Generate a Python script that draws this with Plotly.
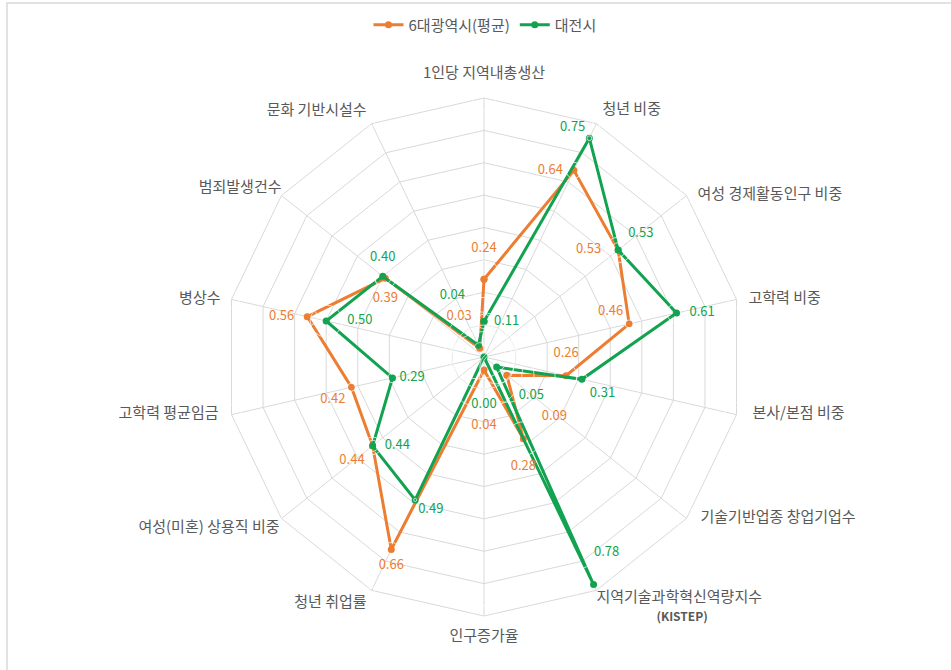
import plotly.graph_objects as go

# Indicator names, clockwise from the top
categories = [
    "1인당 지역내총생산",
    "청년 비중",
    "여성 경제활동인구 비중",
    "고학력 비중",
    "본사/본점 비중",
    "기술기반업종 창업기업수",
    "지역기술과학혁신역량지수<br>\u3000\u3000\u3000\u3000<span style='font-size:12px'><b>(KISTEP)</b></span>",
    "인구증가율",
    "청년 취업률",
    "여성(미혼) 상용직 비중",
    "고학력 평균임금",
    "병상수",
    "범죄발생건수",
    "문화 기반시설수",
]

series_names = ["6대광역시(평균)", "대전시"]
metro_avg = [0.24, 0.64, 0.53, 0.46, 0.26, 0.09, 0.28, 0.04, 0.66, 0.44, 0.42, 0.56, 0.39, 0.03]
daejeon = [0.11, 0.75, 0.53, 0.61, 0.31, 0.05, 0.78, 0.00, 0.49, 0.44, 0.29, 0.50, 0.40, 0.04]
r_max = 0.8

ORANGE = "#ED7D31"
GREEN = "#12A350"
GRID = "#D9D9D9"
TEXT = "#595959"
FONT = "Noto Sans CJK KR"

# Category-name placement around the outer ring: (text position, gap in px)
category_place = [
    ("top center", 16), ("top right", 6), ("middle right", 11), ("middle right", 12),
    ("middle right", 16), ("middle right", 14), ("bottom right", 0), ("bottom center", 14),
    ("bottom left", 5), ("bottom left", 2), ("middle left", 13), ("middle left", 11),
    ("top left", 0), ("top left", 5),
]

# Data-label placement: (text position, gap from the point in px,
# horizontal nudge in spaces, extra blank lines that lift the text)
metro_label_place = [
    ("top center", 24, 0, 0), ("middle left", 11, 0, 0), ("middle left", 17, 0, 0),
    ("top left", 6, 0, 0), ("top center", 15, 0, 0), ("bottom right", 35, 0, 0),
    ("bottom center", 22, 0, 0), ("bottom center", 49, 0, 0), ("bottom center", 10, 0, 0),
    ("bottom left", 8, 0, 0), ("bottom left", 6, 0, 0), ("middle left", 13, 0, 0),
    ("bottom center", 14, 0, 0), ("top left", 8, 0, 1),
]
daejeon_label_place = [
    ("middle right", 10, 0, 0), ("top left", 4, 0, 0), ("top right", 10, 0, 0),
    ("middle right", 13, 0, 0), ("bottom right", 8, 0, 0), ("bottom right", 22, 0, 0),
    ("top center", 25, 2, 0), ("bottom center", 41, 0, 0), ("bottom right", 3, 0, 0),
    ("middle right", 12, 0, 0), ("middle right", 7, 0, 0), ("middle right", 21, 0, 0),
    ("top center", 12, 0, 0), ("top center", 43, -4, 0),
]


def closed(seq):
    return list(seq) + [seq[0]]


def gap_size(gap):
    # marker diameter that makes the text sit `gap` px away from its point
    return max(0.0, 1.6 * (gap - 1))


def series_trace(values, name, color):
    return go.Scatterpolar(
        r=closed(values), theta=closed(categories), name=name,
        mode="lines+markers",
        line=dict(color=color, width=3),
        marker=dict(color=color, size=7),
        cliponaxis=True, hoverinfo="skip", subplot="polar",
    )


def label_trace(values, placement, color):
    texts, positions, sizes = [], [], []
    for v, (pos, gap, nudge, lift) in zip(values, placement):
        t = f"{v:.2f}"
        pad = "\u3000" * abs(nudge)
        t = pad + t if nudge > 0 else t + pad
        t += "<br>\u00a0" * lift
        texts.append(t)
        positions.append(pos)
        sizes.append(gap_size(gap))
    return go.Scatterpolar(
        r=values, theta=categories, mode="markers+text",
        text=texts, textposition=positions,
        textfont=dict(family=FONT, size=13, color=color),
        marker=dict(size=sizes, color="rgba(0,0,0,0)"),
        cliponaxis=True, showlegend=False, hoverinfo="skip", subplot="polar2",
    )


def category_trace():
    return go.Scatterpolar(
        r=[r_max] * len(categories), theta=categories, mode="markers+text",
        text=categories, textposition=[p for p, _ in category_place],
        textfont=dict(family=FONT, size=15, color=TEXT),
        marker=dict(size=[gap_size(g) for _, g in category_place], color="rgba(0,0,0,0)"),
        cliponaxis=False, showlegend=False, hoverinfo="skip", subplot="polar2",
    )


fig = go.Figure()
fig.add_trace(series_trace(metro_avg, series_names[0], ORANGE))
fig.add_trace(series_trace(daejeon, series_names[1], GREEN))
fig.add_trace(label_trace(metro_avg, metro_label_place, ORANGE))
fig.add_trace(label_trace(daejeon, daejeon_label_place, GREEN))
fig.add_trace(category_trace())

W, H = 951, 670
cx, cy, R = 484, 357, 259
r_overlay = 0.9
R2 = R * r_overlay / r_max


def domain(radius):
    return dict(x=[(cx - radius) / W, (cx + radius) / W],
                y=[(H - cy - radius) / H, (H - cy + radius) / H])


angular_common = dict(rotation=90, direction="clockwise", type="category")

fig.update_layout(
    width=W, height=H,
    margin=dict(l=0, r=0, t=0, b=0),
    paper_bgcolor="white",
    font=dict(family=FONT, color=TEXT),
    showlegend=True,
    legend=dict(
        orientation="h", x=485 / W, xanchor="center", y=1 - 25 / H, yanchor="middle",
        font=dict(family=FONT, size=15, color=TEXT),
        itemwidth=30, bgcolor="rgba(0,0,0,0)",
    ),
    polar=dict(
        domain=domain(R),
        bgcolor="white",
        gridshape="linear",
        radialaxis=dict(
            range=[0, r_max], dtick=0.1, showticklabels=False, ticks="",
            showline=False, gridcolor=GRID, gridwidth=1,
        ),
        angularaxis=dict(
            **angular_common,
            showticklabels=False, ticks="",
            showline=True, linecolor=GRID, linewidth=1,
            gridcolor=GRID, gridwidth=1,
        ),
    ),
    # transparent overlay sharing centre and scale, carrying the text
    polar2=dict(
        domain=domain(R2),
        bgcolor="rgba(0,0,0,0)",
        radialaxis=dict(range=[0, r_overlay], visible=False),
        angularaxis=dict(**angular_common, visible=False),
    ),
    shapes=[
        dict(type="rect", xref="paper", yref="paper",
             x0=7 / W, x1=1.02, y0=-0.02, y1=1 - 3 / H,
             line=dict(color=GRID, width=1.5), layer="below"),
    ],
)

fig.write_html("out.html")
